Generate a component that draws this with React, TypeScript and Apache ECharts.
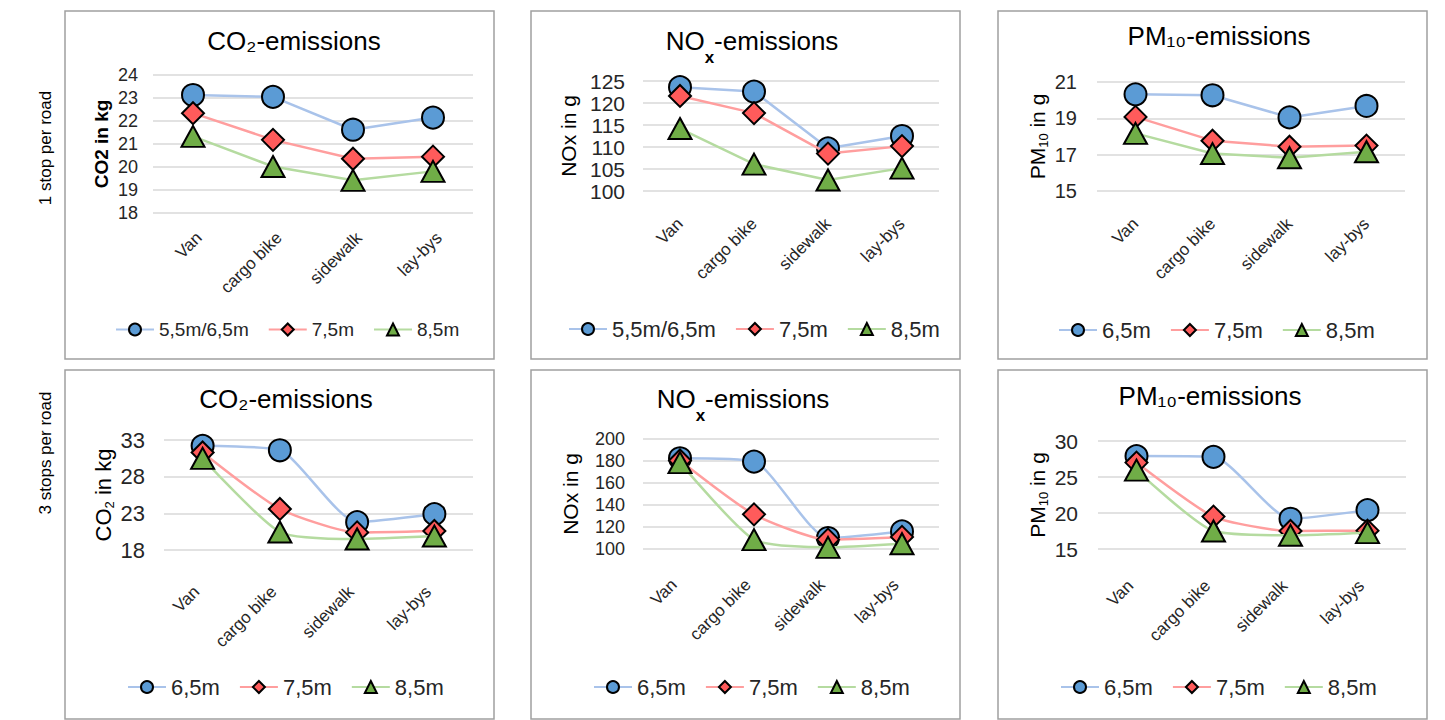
import React, { useEffect, useRef } from "react";
import * as echarts from "echarts";

// ---------- data ----------
const categories = ["Van", "cargo bike", "sidewalk", "lay-bys"];
const rowLabels = ["1 stop per road", "3 stops per road"];
const legendOneStopCo2Nox = ["5,5m/6,5m", "7,5m", "8,5m"];
const legendDefault = ["6,5m", "7,5m", "8,5m"];

// 1 stop per road
const co2OneStopA = [23.13, 23.05, 21.62, 22.15];
const co2OneStopB = [22.34, 21.18, 20.36, 20.45];
const co2OneStopC = [21.33, 20.02, 19.42, 19.81];
const noxOneStopA = [123.6, 122.6, 109.7, 112.5];
const noxOneStopB = [121.6, 117.7, 108.5, 110.2];
const noxOneStopC = [114.2, 106.1, 102.5, 105.2];
const pmOneStopA = [20.32, 20.27, 19.05, 19.68];
const pmOneStopB = [19.08, 17.77, 17.44, 17.5];
const pmOneStopC = [18.17, 17.06, 16.83, 17.16];

// 3 stops per road
const co2ThreeStopsA = [32.2, 31.6, 21.8, 22.9];
const co2ThreeStopsB = [31.3, 23.6, 20.4, 20.6];
const co2ThreeStopsC = [30.5, 20.45, 19.5, 19.9];
const noxThreeStopsA = [182.5, 179.5, 110, 116];
const noxThreeStopsB = [180.5, 131.5, 108.5, 111];
const noxThreeStopsC = [178.5, 108.5, 101.5, 104.8];
const pmThreeStopsA = [27.9, 27.8, 19.2, 20.4];
const pmThreeStopsB = [27.0, 19.5, 17.5, 17.55];
const pmThreeStopsC = [25.95, 17.5, 16.9, 17.27];

// y axis ranges
const yRanges = [
  { min: 18, max: 24, interval: 1 },
  { min: 100, max: 125, interval: 5 },
  { min: 15, max: 21, interval: 2 },
  { min: 18, max: 33, interval: 5 },
  { min: 100, max: 200, interval: 20 },
  { min: 15, max: 30, interval: 5 },
];

// ---------- styles ----------
const FONT = "'Liberation Sans', Arial, Helvetica, sans-serif";
const MARKER = ["#5B9BD5", "#FF5B5B", "#70AD47"];
const LINE = ["#A9C3EA", "#FF9E9E", "#B5DBA0"];
const SYMBOLS: any[] = ["circle", "diamond", "triangle"];
const SYMBOL_SIZES: any[] = [22, 22, [23, 21]];

const panels = [
  {
    box: [65, 11, 494, 359],
    grid: { left: 153, top: 75, width: 320, height: 138 },
    title: "CO₂-emissions", titleX: 294, titleY: 41,
    yName: "CO2 in kg", yNameBold: true, yNameSize: 19, nameGap: 37,
    tickSize: 18, tickMargin: 15, catMargin: 16, catVA: "top",
    legend: legendOneStopCo2Nox, legendLeft: 115, legendY: 332, legendSize: 19,
    data: [co2OneStopA, co2OneStopB, co2OneStopC], smooth: false,
  },
  {
    box: [531, 11, 960, 359],
    grid: { left: 643, top: 81, width: 296, height: 110 },
    title: "NO{sub|x}-emissions", titleX: 752, titleY: 41,
    yName: "NOx in g", yNameBold: false, yNameSize: 21, nameGap: 62,
    tickSize: 21, tickMargin: 18, catMargin: 30, catVA: "middle",
    legend: legendOneStopCo2Nox, legendLeft: 568, legendY: 330, legendSize: 22,
    data: [noxOneStopA, noxOneStopB, noxOneStopC], smooth: false,
  },
  {
    box: [998, 11, 1427, 359],
    grid: { left: 1097, top: 82, width: 308, height: 109 },
    title: "PM₁₀-emissions", titleX: 1219, titleY: 36,
    yName: "PM{sub|10} in g", yNameBold: false, yNameSize: 21, nameGap: 47,
    tickSize: 20, tickMargin: 20, catMargin: 30, catVA: "middle",
    legend: legendDefault, legendLeft: 1058, legendY: 331, legendSize: 22,
    data: [pmOneStopA, pmOneStopB, pmOneStopC], smooth: false,
  },
  {
    box: [65, 370, 494, 719],
    grid: { left: 164, top: 440, width: 309, height: 110 },
    title: "CO₂-emissions", titleX: 286, titleY: 399,
    yName: "CO{sub|2} in kg", yNameBold: false, yNameSize: 22, nameGap: 48,
    tickSize: 22, tickMargin: 19, catMargin: 45, catVA: "bottom",
    legend: legendDefault, legendLeft: 127, legendY: 688, legendSize: 22,
    data: [co2ThreeStopsA, co2ThreeStopsB, co2ThreeStopsC], smooth: 0.2,
  },
  {
    box: [531, 370, 960, 719],
    grid: { left: 643, top: 439, width: 296, height: 110 },
    title: "NO{sub|x}-emissions", titleX: 743, titleY: 399,
    yName: "NOx in g", yNameBold: false, yNameSize: 21, nameGap: 60,
    tickSize: 18, tickMargin: 18, catMargin: 39, catVA: "bottom",
    legend: legendDefault, legendLeft: 593, legendY: 688, legendSize: 22,
    data: [noxThreeStopsA, noxThreeStopsB, noxThreeStopsC], smooth: 0.2,
  },
  {
    box: [998, 370, 1427, 719],
    grid: { left: 1098, top: 441, width: 308, height: 108 },
    title: "PM₁₀-emissions", titleX: 1210, titleY: 396,
    yName: "PM{sub|10} in g", yNameBold: false, yNameSize: 21, nameGap: 48,
    tickSize: 21, tickMargin: 20, catMargin: 40, catVA: "bottom",
    legend: legendDefault, legendLeft: 1060, legendY: 688, legendSize: 22,
    data: [pmThreeStopsA, pmThreeStopsB, pmThreeStopsC], smooth: 0.2,
  },
];

function buildOption() {
  const grid: any[] = [];
  const xAxis: any[] = [];
  const yAxis: any[] = [];
  const series: any[] = [];
  const legend: any[] = [];
  const graphic: any[] = [];

  panels.forEach((p, i) => {
    grid.push({ ...p.grid, containLabel: false });
    xAxis.push({
      type: "category",
      gridIndex: i,
      data: categories,
      boundaryGap: true,
      axisLine: { show: false },
      axisTick: { show: false },
      axisLabel: {
        rotate: 45,
        margin: p.catMargin,
        verticalAlign: p.catVA,
        fontSize: 17,
        fontFamily: FONT,
        color: "#262626",
        interval: 0,
      },
    });
    yAxis.push({
      type: "value",
      gridIndex: i,
      min: yRanges[i].min,
      max: yRanges[i].max,
      interval: yRanges[i].interval,
      axisLine: { show: false },
      axisTick: { show: false },
      splitLine: { lineStyle: { color: "#D9D9D9", width: 1.5 } },
      axisLabel: {
        fontSize: p.tickSize,
        fontFamily: FONT,
        color: "#262626",
        margin: p.tickMargin,
      },
      name: p.yName,
      nameLocation: "middle",
      nameRotate: 90,
      nameGap: p.nameGap,
      nameTextStyle: {
        fontSize: p.yNameSize,
        fontWeight: p.yNameBold ? "bold" : "normal",
        fontFamily: FONT,
        color: "#000",
        lineHeight: 26,
        rich: {
          sub: {
            fontSize: 13,
            fontFamily: FONT,
            color: "#000",
            lineHeight: 12,
            verticalAlign: "bottom",
          },
        },
      },
    });
    p.data.forEach((vals, k) => {
      series.push({
        type: "line",
        name: p.legend[k],
        xAxisIndex: i,
        yAxisIndex: i,
        data: vals,
        smooth: p.smooth,
        symbol: SYMBOLS[k],
        symbolSize: SYMBOL_SIZES[k],
        lineStyle: { color: LINE[k], width: 2.5 },
        itemStyle: { color: MARKER[k], borderColor: "#000", borderWidth: 2 },
        z: 2 + k,
      });
    });
    legend.push({
      data: p.legend,
      left: p.legendLeft,
      top: p.legendY - 12,
      orient: "horizontal",
      itemWidth: 38,
      itemHeight: 15,
      itemGap: 19,
      padding: 0,
      selectedMode: false,
      textStyle: { fontSize: p.legendSize, fontFamily: FONT, color: "#262626" },
    });
    graphic.push({
      type: "rect",
      shape: { x: p.box[0], y: p.box[1], width: p.box[2] - p.box[0], height: p.box[3] - p.box[1] },
      style: { fill: "none", stroke: "#A0A0A0", lineWidth: 1.5 },
      silent: true,
      z: -10,
    });
    graphic.push({
      type: "text",
      x: p.titleX,
      y: p.titleY,
      style: {
        text: p.title,
        align: "center",
        verticalAlign: "middle",
        fontSize: 26,
        fontFamily: FONT,
        fill: "#000",
        lineHeight: 50,
        rich: {
          sub: {
            fontSize: 17,
            fontWeight: "bold",
            fontFamily: FONT,
            fill: "#000",
            lineHeight: 17,
            verticalAlign: "bottom",
          },
        },
      },
    });
  });

  graphic.push({
    type: "text",
    x: 45,
    y: 148,
    rotation: Math.PI / 2,
    style: { text: rowLabels[0], align: "center", verticalAlign: "middle", fontSize: 17, fontFamily: FONT, fill: "#000" },
  });
  graphic.push({
    type: "text",
    x: 45,
    y: 453,
    rotation: Math.PI / 2,
    style: { text: rowLabels[1], align: "center", verticalAlign: "middle", fontSize: 17, fontFamily: FONT, fill: "#000" },
  });

  return { animation: false, backgroundColor: "#fff", grid, xAxis, yAxis, series, legend, graphic };
}

export default function App() {
  const ref = useRef<HTMLDivElement>(null);
  useEffect(() => {
    if (!ref.current) return;
    const chart = echarts.init(ref.current, undefined, { renderer: "svg" });
    chart.setOption(buildOption() as any);
    return () => chart.dispose();
  }, []);
  return (
    <div
      ref={ref}
      style={{ position: "fixed", left: 0, top: 0, width: 1445, height: 720, background: "#fff" }}
    />
  );
}
